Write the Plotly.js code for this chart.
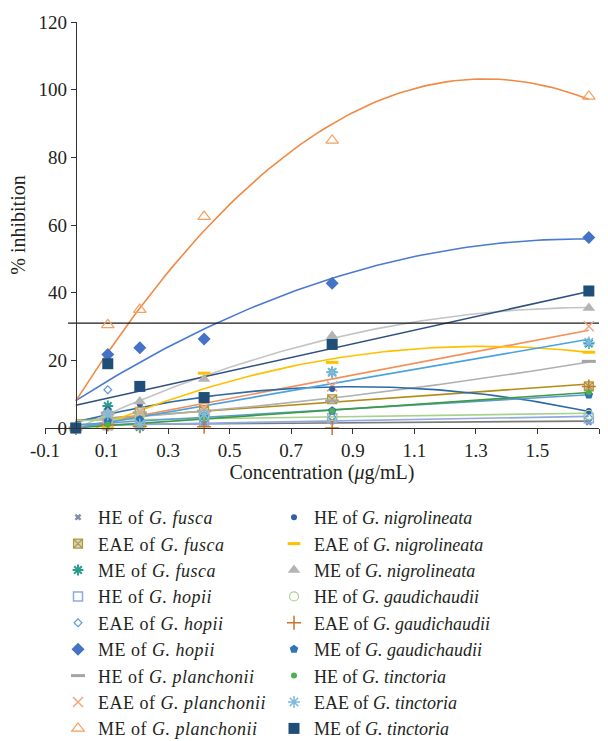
<!DOCTYPE html>
<html>
<head>
<meta charset="utf-8">
<script src="https://cdn.plot.ly/plotly-3.0.1.min.js"></script>
<style>
  html, body { margin: 0; padding: 0; background: #ffffff; }
  #chart { width: 608px; height: 741px; }
  .legendtext { letter-spacing: 0.5px; }
</style>
</head>
<body>
<div id="chart"></div>
<script>
// ---------- data ----------
const conc = [0, 0.104, 0.208, 0.417, 0.833, 1.667];   // µg/mL

const heFusca        = [0, 1.5, 1.2, 1.4, 2.0, 1.7];
const eaeFusca       = [0, 3.5, 4.8, 5.3, 8.5, 12.3];
const meFusca        = [0, 6.5, 0.3, 3.8, 16.5, 25.0];
const heHopii        = [0, 0.8, 1.0, 1.9, 2.9, 2.9];
const eaeHopii       = [0, 11.3, 1.0, 2.2, 3.2, 3.0];
const meHopii        = [0, 21.7, 23.7, 26.3, 42.8, 56.3];
const hePlanchonii   = [0, 4.4, 4.5, 5.0, 8.0, 19.7];
const eaePlanchonii  = [0, 3.0, 4.8, 6.0, 12.3, 30.1];
const mePlanchonii   = [0, 30.5, 35.0, 62.5, 85.0, 98.0];
const heNigro        = [0, 5.5, 7.0, 9.0, 11.5, 5.0];
const eaeNigro       = [0, 0.0, 0.5, 16.2, 19.4, 22.4];
const meNigro        = [0, 4.5, 7.8, 14.5, 27.2, 35.5];
const heGaudi        = [0, 3.0, 3.5, 3.5, 3.5, 3.9];
const eaeGaudi       = [0, 1.0, 0.5, 0.4, 0.0, 12.3];
const meGaudi        = [0, 2.0, 2.5, 3.5, 5.1, 9.8];
const heTinct        = [0, 1.0, 1.0, 3.0, 5.0, 10.6];
const eaeTinct       = [0, 4.0, 1.0, 4.0, 16.5, 25.3];
const meTinct        = [0, 19.0, 12.3, 9.0, 24.7, 40.5];

const refLineValue = [31];

const legendLabels = [
  'HE of <i>G. fusca</i>', 'EAE of <i>G. fusca</i>', 'ME of <i>G. fusca</i>',
  'HE of <i>G. hopii</i>', 'EAE of <i>G. hopii</i>', 'ME of <i>G. hopii</i>',
  'HE of <i>G. planchonii</i>', 'EAE of <i>G. planchonii</i>', 'ME of <i>G. planchonii</i>',
  'HE of <i>G. nigrolineata</i>', 'EAE of <i>G. nigrolineata</i>', 'ME of <i>G. nigrolineata</i>',
  'HE of <i>G. gaudichaudii</i>', 'EAE of <i>G. gaudichaudii</i>', 'ME of <i>G. gaudichaudii</i>',
  'HE of <i>G. tinctoria</i>', 'EAE of <i>G. tinctoria</i>', 'ME of <i>G. tinctoria</i>'
];

const xTicks = [-0.1, 0.1, 0.3, 0.5, 0.7, 0.9, 1.1, 1.3, 1.5, 1.7];
const yTicks = [0, 20, 40, 60, 80, 100, 120];

// ---------- styles ----------
const seriesValues = [heFusca, eaeFusca, meFusca, heHopii, eaeHopii, meHopii,
  hePlanchonii, eaePlanchonii, mePlanchonii, heNigro, eaeNigro, meNigro,
  heGaudi, eaeGaudi, meGaudi, heTinct, eaeTinct, meTinct];

const styles = [
  {sym:'x',                size:6,  color:'#7f8ea8', lw:0,   trend:'#7a7a7a', order:1},
  {sym:'square-x',         size:9,  color:'#d0d0d0', lw:1.2, lc:'#b39a2e', trend:'#b38b14', order:1},
  {sym:'asterisk-open',    size:9,  color:'#2a9d8f', lw:2,   trend:null, order:1},
  {sym:'square-open',      size:9,  color:'#8faadc', lw:1.5, trend:'#8faadc', order:1},
  {sym:'diamond-open',     size:6,  color:'#5b9bd5', lw:1.2, trend:null, order:1},
  {sym:'diamond',          size:10, color:'#4472c4', lw:0,   trend:'#4a7bd0', order:2},
  {sym:'line-ew-open',     size:10, color:'#a5a5a5', lw:3,   trend:'#b0b0b0', order:2},
  {sym:'x-thin-open',      size:10, color:'#f4a582', lw:1.5, trend:'#f4915a', order:1},
  {sym:'triangle-up-open', size:11, color:'#f4a060', lw:1.2, trend:'#f08a45', order:2},
  {sym:'circle',           size:6,  color:'#2f5f9f', lw:0,   trend:'#2c6aa6', order:2},
  {sym:'line-ew-open',     size:9,  color:'#ffc000', lw:3,   trend:'#ffc000', order:2},
  {sym:'triangle-up',      size:11, color:'#b4b4b4', lw:0,   trend:'#c4c4c4', order:2},
  {sym:'circle-open',      size:9,  color:'#a9d18e', lw:1.2, trend:'#a9d18e', order:1},
  {sym:'cross-thin-open',  size:10, color:'#c8742c', lw:1.5, trend:null, order:1},
  {sym:'pentagon',         size:9,  color:'#2e75b6', lw:0,   trend:'#5b9bd5', order:1},
  {sym:'circle',           size:6,  color:'#4caf50', lw:0,   trend:'#3f9b3f', order:1},
  {sym:'asterisk-open',    size:10, color:'#7fb8e0', lw:1.5, trend:'#4aa3df', order:1},
  {sym:'square',           size:11, color:'#1f4e79', lw:0,   trend:'#2f4f80', order:1}
];

// ---------- least-squares polynomial trendlines from the data ----------
function polyfit(xs, ys, order) {
  const n = order + 1;
  const A = [], b = [];
  for (let i = 0; i < n; i++) {
    A.push([]);
    for (let j = 0; j < n; j++) {
      let s = 0; xs.forEach(x => { s += Math.pow(x, i + j); }); A[i].push(s);
    }
    let t = 0; xs.forEach((x, k) => { t += Math.pow(x, i) * ys[k]; }); b.push(t);
  }
  for (let c = 0; c < n; c++) {
    let p = c;
    for (let r = c + 1; r < n; r++) if (Math.abs(A[r][c]) > Math.abs(A[p][c])) p = r;
    [A[c], A[p]] = [A[p], A[c]]; [b[c], b[p]] = [b[p], b[c]];
    for (let r = c + 1; r < n; r++) {
      const f = A[r][c] / A[c][c];
      for (let k = c; k < n; k++) A[r][k] -= f * A[c][k];
      b[r] -= f * b[c];
    }
  }
  const coef = new Array(n).fill(0);
  for (let r = n - 1; r >= 0; r--) {
    let s = b[r];
    for (let k = r + 1; k < n; k++) s -= A[r][k] * coef[k];
    coef[r] = s / A[r][r];
  }
  return coef;
}

const FONT = 'Liberation Serif, Times New Roman, serif';
const TXT = '#231f20';
const traces = [];

// trendlines first (under markers)
seriesValues.forEach((ys, i) => {
  const st = styles[i];
  if (!st.trend) return;
  const coef = polyfit(conc, ys, st.order);
  const xMin = Math.min(...conc), xMax = Math.max(...conc);
  const steps = 80;
  const lx = [], ly = [];
  for (let k = 0; k <= steps; k++) {
    const x = xMin + (xMax - xMin) * k / steps;
    lx.push(x);
    ly.push(coef.reduce((acc, c, p) => acc + c * Math.pow(x, p), 0));
  }
  traces.push({
    type: 'scatter', mode: 'lines', x: lx, y: ly, showlegend: false, hoverinfo: 'skip',
    line: {color: st.trend, width: 1.6}
  });
});

// reference horizontal line
traces.push({
  type: 'scatter', mode: 'lines', x: [-0.025, 1.72], y: [refLineValue[0], refLineValue[0]],
  showlegend: false, hoverinfo: 'skip', cliponaxis: false,
  line: {color: '#1a1a1a', width: 1.2}
});

// data markers
seriesValues.forEach((ys, i) => {
  const st = styles[i];
  traces.push({
    type: 'scatter', mode: 'markers', name: legendLabels[i], x: conc, y: ys,
    legend: i < 9 ? 'legend' : 'legend2',
    cliponaxis: false,
    marker: {
      symbol: st.sym, size: st.size, color: st.color,
      line: {color: st.lc || st.color, width: st.lw}
    }
  });
});

const legendCommon = {
  xref: 'paper', yref: 'paper', xanchor: 'left', yanchor: 'top',
  orientation: 'v', bgcolor: 'rgba(0,0,0,0)', borderwidth: 0,
  font: {family: FONT, size: 18, color: TXT}, itemwidth: 30, tracegroupgap: 0
};

const layout = {
  width: 608, height: 741,
  margin: {l: 45, r: 9, t: 22, b: 313, autoexpand: false},
  paper_bgcolor: '#ffffff', plot_bgcolor: '#ffffff',
  font: {family: FONT, size: 19, color: TXT},
  showlegend: true,
  xaxis: {
    range: [-0.1, 1.7], tickvals: xTicks, ticktext: xTicks.map(v => v.toFixed(1)),
    ticks: 'outside', ticklen: 5, tickcolor: '#333', tickwidth: 1, tickangle: 0,
    showline: true, linecolor: '#333', linewidth: 1, showgrid: false, zeroline: false,
    automargin: false,
    tickfont: {family: FONT, size: 19, color: TXT},
    title: {text: 'Concentration (<i>μ</i>g/mL)', font: {family: FONT, size: 20, color: TXT}, standoff: 4}
  },
  yaxis: {
    range: [0, 120], tickvals: yTicks,
    anchor: 'free', position: 0.1 / 1.8,
    ticks: 'outside', ticklen: 5, tickcolor: '#333', tickwidth: 1,
    showline: true, linecolor: '#333', linewidth: 1, showgrid: false, zeroline: false,
    automargin: false,
    tickfont: {family: FONT, size: 19, color: TXT},
    title: {text: '% inhibition', font: {family: FONT, size: 20, color: TXT}, standoff: 6}
  },
  legend: Object.assign({x: (58 - 45) / 554, y: (428 - 499) / 406}, legendCommon),
  legend2: Object.assign({x: (274 - 45) / 554, y: (428 - 499) / 406}, legendCommon)
};

Plotly.newPlot('chart', traces, layout, {displayModeBar: false, staticPlot: true});
</script>
</body>
</html>
